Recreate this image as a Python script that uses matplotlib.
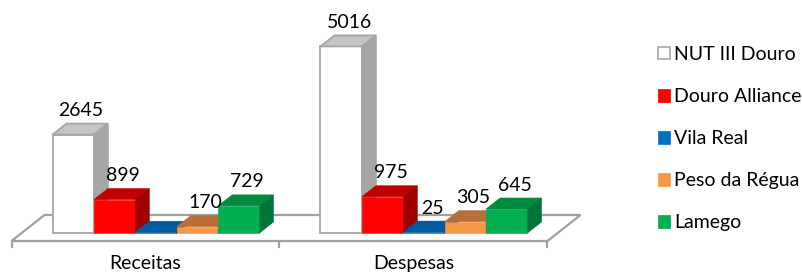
import matplotlib
matplotlib.use('Agg')
import matplotlib.pyplot as plt
from matplotlib.patches import Polygon, Patch

plt.rcParams['font.family'] = ['Lato', 'DejaVu Sans']

# ---- data ----
categories = ['Receitas', 'Despesas']
series_names = ['NUT III Douro', 'Douro Alliance', 'Vila Real', 'Peso da Régua', 'Lamego']
nut3_douro = [2645, 5016]
douro_alliance = [899, 975]
vila_real = [20, 25]
peso_da_regua = [170, 305]
lamego = [729, 645]
show_label = [[True, True], [True, True], [False, True], [True, True], [True, True]]

series_values = [nut3_douro, douro_alliance, vila_real, peso_da_regua, lamego]

# ---- styles ----
front_colors = ['#ffffff', '#ff0000', '#0070c0', '#f79646', '#00b050']
top_colors = ['#c4c4c4', '#c00000', '#005a9e', '#b86e36', '#008a3e']
side_colors = ['#a6a6a6', '#a00000', '#004a80', '#9c5a28', '#00753a']
gray_edge = '#a6a6a6'

W, H, DPI = 803, 274, 100
PX_X = 268.0      # pixels per category step
X0 = 156.0        # pixel position of first category centre
PX_Y = 0.0372     # pixels per value unit
Y0 = 41.0         # pixel height of baseline above figure bottom
BAR_PX = 41.4
DX_PX, DY_PX = 14.0, 11.0          # bar depth offsets
FRONT_DX, FRONT_DY = -10.5, -8.0   # floor front edge offset
BACK_DX, BACK_DY = 22.5, 18.0      # floor back edge offset
FS = 14

fig = plt.figure(figsize=(W / DPI, H / DPI), dpi=DPI)
ax = fig.add_axes([0, 0, 1, 1])
ax.set_xlim(-X0 / PX_X, (W - X0) / PX_X)
ax.set_ylim(-Y0 / PX_Y, (H - Y0) / PX_Y)
ax.axis('off')

ux = 1.0 / PX_X
uy = 1.0 / PX_Y
bw = BAR_PX * ux
dx, dy = DX_PX * ux, DY_PX * uy

n_cat = len(categories)
left_b = -0.5
right_b = n_cat - 0.5

# floor
floor = Polygon([
    (left_b + FRONT_DX * ux, FRONT_DY * uy),
    (right_b + FRONT_DX * ux, FRONT_DY * uy),
    (right_b + BACK_DX * ux, BACK_DY * uy),
    (left_b + BACK_DX * ux, BACK_DY * uy),
], closed=True, facecolor='white', edgecolor='#a0a0a0', lw=1.6, zorder=1)
ax.add_patch(floor)
for b in range(n_cat + 1):
    xb = left_b + b + FRONT_DX * ux
    ax.plot([xb, xb], [FRONT_DY * uy, (FRONT_DY - 6) * uy], color='#a0a0a0', lw=1.6, zorder=1)

# category labels
for c, name in enumerate(categories):
    ax.text(c + FRONT_DX * ux, (5 - Y0) * uy, name, ha='center', va='baseline',
            fontsize=FS, color='black')

# bars
n_s = len(series_values)
for i, vals in enumerate(series_values):
    xs = [c + (i - (n_s - 1) / 2) * bw for c in range(n_cat)]
    z = 2 + i
    is_white = (i == 0)
    ec = gray_edge if is_white else front_colors[i]
    lw = 1.3 if is_white else 0.4
    ax.bar(xs, vals, width=bw, color=front_colors[i], edgecolor=ec, linewidth=lw, zorder=z)
    for c, (x, h) in enumerate(zip(xs, vals)):
        xl, xr = x - bw / 2, x + bw / 2
        top = Polygon([(xl, h), (xr, h), (xr + dx, h + dy), (xl + dx, h + dy)], closed=True,
                      facecolor=top_colors[i], edgecolor=gray_edge if is_white else top_colors[i],
                      lw=lw, zorder=z)
        side = Polygon([(xr, 0), (xr, h), (xr + dx, h + dy), (xr + dx, dy)], closed=True,
                       facecolor=side_colors[i], edgecolor=gray_edge if is_white else side_colors[i],
                       lw=lw, zorder=z)
        ax.add_patch(top)
        ax.add_patch(side)
        if show_label[i][c]:
            ax.text(x + 8 * ux, h + dy + 13 * uy, f'{h}', ha='center', va='center',
                    fontsize=FS, color='black', zorder=20)

# legend
handles = [Patch(facecolor=front_colors[i], edgecolor=gray_edge if i == 0 else front_colors[i],
                 linewidth=1.2 if i == 0 else 0.5) for i in range(n_s)]
ax.legend(handles, series_names, loc='upper left', bbox_to_anchor=(658 / W, 1 - 46 / H),
          frameon=False, fontsize=FS, handlelength=0.62, handleheight=0.62,
          handletextpad=0.22, labelspacing=1.29, borderaxespad=0, borderpad=0)

fig.savefig('out.png', dpi=DPI)
